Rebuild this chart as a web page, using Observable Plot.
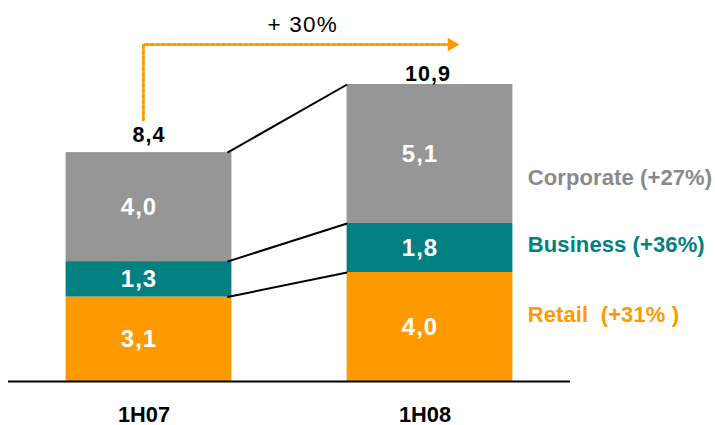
<!DOCTYPE html>
<html><head><meta charset="utf-8">
<script src="https://cdn.jsdelivr.net/npm/d3@7"></script>
<script src="https://cdn.jsdelivr.net/npm/@observablehq/plot@0.6"></script>
<style>
html,body{margin:0;padding:0;background:#fff} svg{display:block}
g[font-size="24"] text{letter-spacing:1px}
g[font-size="22"] text{letter-spacing:0.1px}
g[font-size="21.5"] text{letter-spacing:1px}
g[font-size="22.5"] text{letter-spacing:1.2px}
</style>
</head><body><div id="chart"></div>
<script>
// ---- data ----
const periods = ["1H07", "1H08"];
const segments = ["Retail", "Business", "Corporate"];
const retail = [3.1, 4.0];
const business = [1.3, 1.8];
const corporate = [4.0, 5.1];
const totals = [8.4, 10.9];
const segmentLabels = ["Retail  (+31% )", "Business (+36%)", "Corporate (+27%)"];
const growthLabel = "+ 30%";
const barColors = ["#FF9900", "#008080", "#969696"];
const labelColors = ["#FF9900", "#008080", "#8a8a8a"];

// ---- derived table ----
const series = [retail, business, corporate];
const rows = [];
periods.forEach((p, i) => {
  let acc = 0;
  series.forEach((s, j) => {
    rows.push({i, period: p, seg: segments[j], value: s[i], y1: acc, y2: acc + s[i]});
    acc += s[i];
  });
});
const hw = 0.295; // bar half width (x units)
const fmt = v => v.toFixed(1).replace(".", ",");

// connector lines between stack boundaries
const links = segments.map((seg, j) => {
  const a = rows.find(r => r.i === 0 && r.seg === seg).y2;
  const b = rows.find(r => r.i === 1 && r.seg === seg).y2;
  return {a, b};
});

// growth arrow annotation
const arrowY = 12.37;
const arrowX0 = -0.02, arrowX1 = 1.063;
const arrowPath = [{x: arrowX0, y: 9.61}, {x: arrowX0, y: arrowY}, {x: arrowX1, y: arrowY}];

// legend label positions (y units) on right
const segLabelY = [2.46, 5.01, 7.47];
const legend = segments.map((s, j) => ({text: segmentLabels[j], y: segLabelY[j], color: labelColors[j]}));

const totalRows = totals.map((t, i) => ({i, t}));
const catRows = periods.map((p, i) => ({i, p}));

const chart = Plot.plot({
  width: 715,
  height: 425,
  marginLeft: 8,
  marginRight: 145,
  marginTop: 84,
  marginBottom: 44,
  style: {fontFamily: "Arial, 'Liberation Sans', sans-serif", background: "#fff"},
  x: {domain: [-0.5, 1.5], axis: null},
  y: {domain: [0, 10.9], axis: null},
  color: {domain: segments, range: barColors},
  marks: [
    Plot.rectY(rows, {x1: d => d.i - hw, x2: d => d.i + hw, y1: "y1", y2: "y2", fill: "seg"}),
    Plot.link(links, {x1: hw - 0.016, y1: "a", x2: 1 - hw, y2: "b", stroke: "#000", strokeWidth: 2}),
    Plot.ruleY([0], {x1: -0.5, x2: 1.5, stroke: "#000", strokeWidth: 2}),
    Plot.text(rows, {x: "i", y: d => (d.y1 + d.y2) / 2, text: d => fmt(d.value), fill: "#fff",
      fontSize: 24, fontWeight: "bold", dx: -10}),
    Plot.text(totalRows.filter(d => d.i === 0), {x: "i", y: "t", text: d => fmt(d.t), lineAnchor: "bottom",
      dy: -11, fontSize: 21.5, fontWeight: "bold", fill: "#000"}),
    Plot.text(totalRows.filter(d => d.i === 1), {x: "i", y: "t", text: d => fmt(d.t), lineAnchor: "bottom",
      dy: -4, dx: -2, fontSize: 21.5, fontWeight: "bold", fill: "#000"}),
    Plot.text(catRows, {x: "i", y: 0, text: "p", lineAnchor: "bottom", dy: 40, dx: -5,
      fontSize: 21.8, fontWeight: "bold", fill: "#000"}),
    Plot.text(legend, {x: 1 + hw + 0.053, y: "y", text: "text", fill: "color", textAnchor: "start",
      fontSize: 22, fontWeight: "bold"}),
    Plot.line(arrowPath, {x: "x", y: "y", stroke: "#FF9900", strokeWidth: 3, strokeDasharray: "3,2.5"}),
    Plot.dot([{x: 1.077, y: arrowY}], {x: "x", y: "y", symbol: "triangle", rotate: 90, r: 5, fill: "#FF9900", stroke: null}),
    Plot.text([growthLabel], {x: 0.547, y: 12.81, text: d => d, lineAnchor: "bottom", fontSize: 22.5, fill: "#000"})
  ]
});
document.getElementById("chart").appendChild(chart);
</script>
</body></html>
